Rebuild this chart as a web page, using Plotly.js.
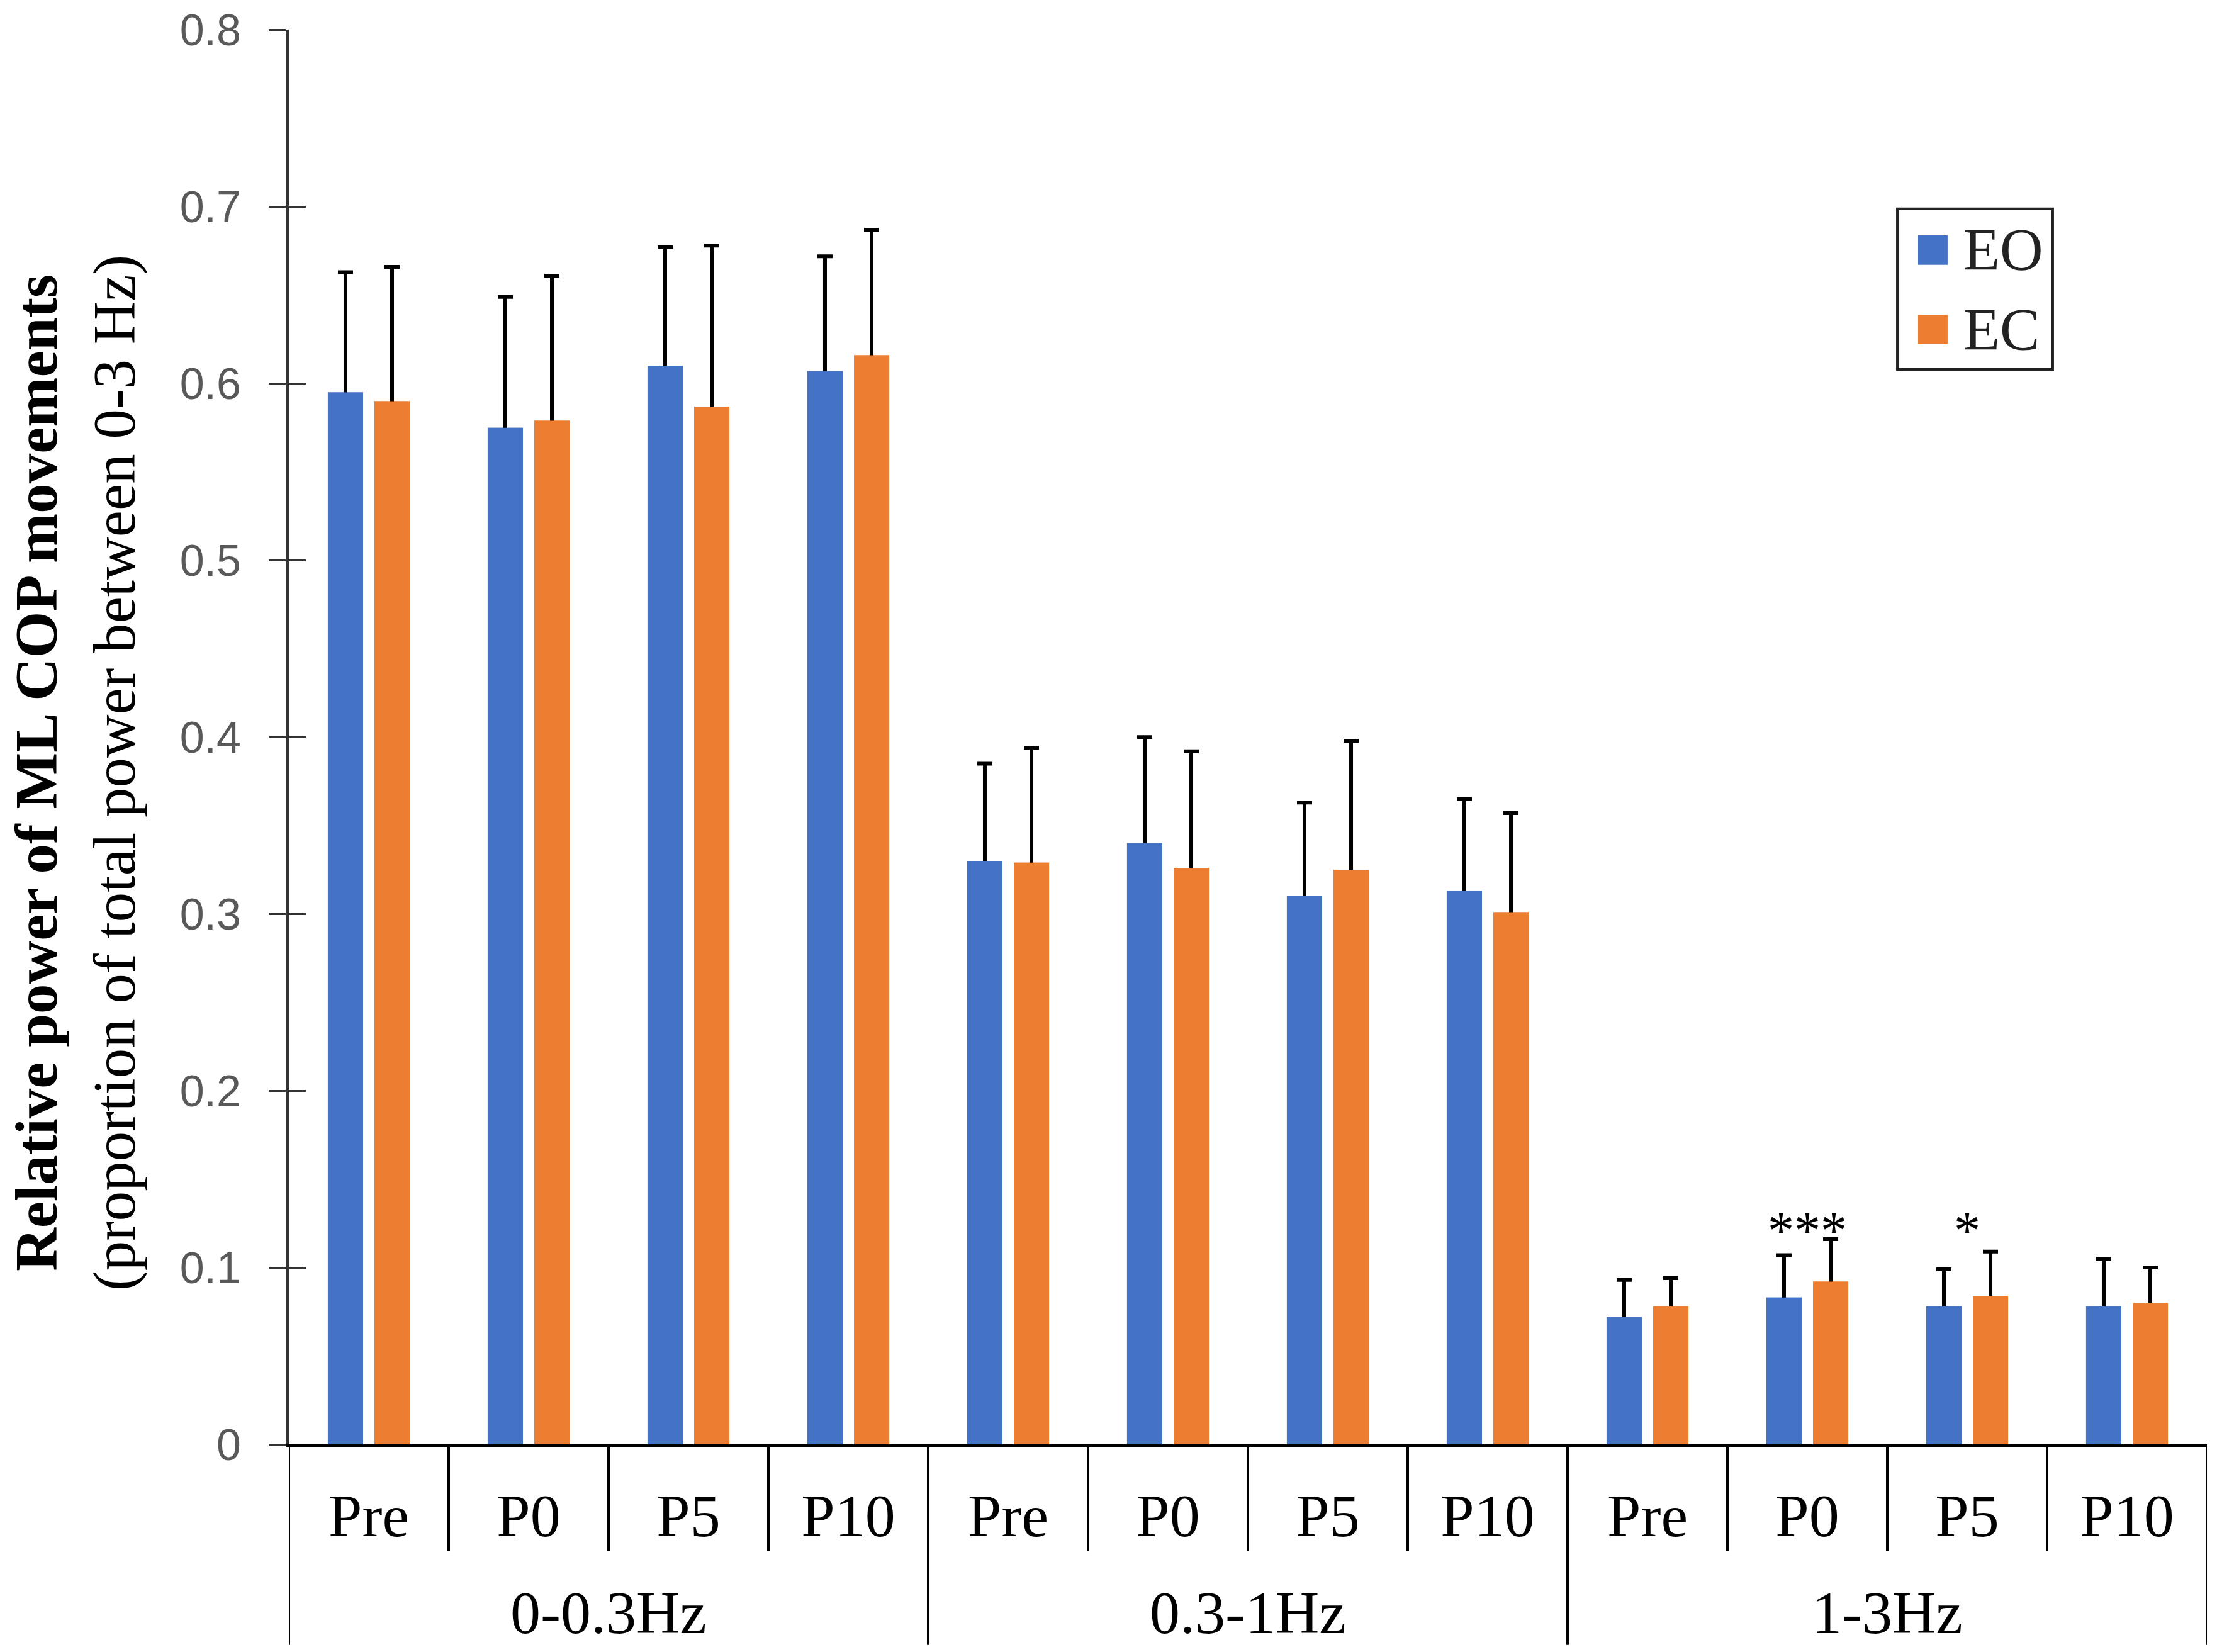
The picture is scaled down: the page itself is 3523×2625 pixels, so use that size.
<!DOCTYPE html>
<html>
<head>
<meta charset="utf-8">
<script src="https://cdn.plot.ly/plotly-3.0.1.min.js"></script>
<style>
  html, body { margin: 0; padding: 0; background: #fff; }
</style>
</head>
<body>
<div id="plot"></div>
<script>
const bands = ['0-0.3Hz', '0.3-1Hz', '1-3Hz'];
const periods = ['Pre', 'P0', 'P5', 'P10'];
const seriesNames = ['EO', 'EC'];

// mean relative power, one value per band/period (band-major order)
const eoMean = [0.595, 0.575, 0.610, 0.607, 0.330, 0.340, 0.310, 0.313, 0.072, 0.083, 0.078, 0.078];
const eoErr  = [0.068, 0.074, 0.067, 0.065, 0.055, 0.060, 0.053, 0.052, 0.021, 0.024, 0.021, 0.027];
const ecMean = [0.590, 0.579, 0.587, 0.616, 0.329, 0.326, 0.325, 0.301, 0.078, 0.092, 0.084, 0.080];
const ecErr  = [0.076, 0.082, 0.091, 0.071, 0.065, 0.066, 0.073, 0.056, 0.016, 0.024, 0.025, 0.020];
const stars  = ['', '', '', '', '', '', '', '', '', '***', '*', ''];

const colors = ['#4472C4', '#ED7D31'];
const means = [eoMean, ecMean];
const errs = [eoErr, ecErr];
const serif = 'Liberation Serif, Times New Roman, serif';

const xPos = eoMean.map((_, i) => i);
const tickText = [];
bands.forEach(() => periods.forEach(p => tickText.push(p)));

// first pass carries the error bars (on y), second pass sits on the overlay
// axis y2 and repaints the bars over the lower half of each error bar
const errTraces = seriesNames.map((name, k) => ({
    type: 'bar',
    name: name,
    x: xPos,
    y: means[k],
    offsetgroup: name,
    marker: { color: colors[k] },
    error_y: {
        type: 'data',
        array: errs[k],
        color: '#000',
        thickness: 6,
        width: 12,
    },
    showlegend: false,
    hoverinfo: 'skip',
}));

const barTraces = seriesNames.map((name, k) => ({
    type: 'bar',
    name: name,
    x: xPos,
    y: means[k],
    yaxis: 'y2',
    offsetgroup: name,
    marker: { color: colors[k] },
    showlegend: false,
}));

const shapes = [];
const annotations = [];

// divider lines under the axis, long ones between bands
for (let i = 0; i <= xPos.length; i++) {
    const isBand = i % periods.length === 0;
    shapes.push({
        type: 'line',
        xref: 'x', yref: 'paper',
        x0: i - 0.5, x1: i - 0.5,
        y0: 0, y1: isBand ? -0.1418 : -0.0752,
        line: { color: '#000', width: 4 },
    });
}

bands.forEach((b, bi) => {
    annotations.push({
        text: b,
        xref: 'x', yref: 'paper',
        x: bi * periods.length + (periods.length - 1) / 2,
        y: -0.1188,
        yanchor: 'middle',
        showarrow: false,
        font: { family: serif, size: 96, color: '#000' },
    });
});

stars.forEach((s, i) => {
    if (!s) return;
    annotations.push({
        text: s,
        xref: 'x', yref: 'y',
        x: xPos[i], y: 0.121,
        yanchor: 'middle',
        showarrow: false,
        font: { family: serif, size: 84, color: '#000' },
    });
});

annotations.push({
    text: '<b>Relative power of ML COP movements</b><br>(proportion of total power between 0-3 Hz)',
    xref: 'paper', yref: 'paper',
    x: -0.1112, y: 0.4747,
    xanchor: 'center', yanchor: 'middle',
    textangle: -90,
    showarrow: false,
    font: { family: serif, size: 95, color: '#000' },
});

// legend box drawn by hand so the swatches can be as large as the original
shapes.push({
    type: 'rect', xref: 'paper', yref: 'paper',
    x0: 0.8386, x1: 0.9196, y0: 0.7598, y1: 0.8733,
    line: { color: '#222', width: 4 },
    fillcolor: 'rgba(0,0,0,0)',
});
seriesNames.forEach((name, k) => {
    const yMid = 0.8441 - k * 0.0561;
    shapes.push({
        type: 'rect', xref: 'paper', yref: 'paper',
        x0: 0.8494, x1: 0.8648, y0: yMid - 0.0104, y1: yMid + 0.0104,
        line: { width: 0 },
        fillcolor: colors[k],
    });
    annotations.push({
        text: name,
        xref: 'paper', yref: 'paper',
        x: 0.8725, y: yMid,
        xanchor: 'left', yanchor: 'middle',
        showarrow: false,
        font: { family: serif, size: 95, color: '#222' },
    });
});

const yRange = [0, 0.8002];

const layout = {
    width: 3523,
    height: 2625,
    margin: { l: 459, r: 16, t: 47, b: 330 },
    paper_bgcolor: '#fff',
    plot_bgcolor: '#fff',
    barmode: 'group',
    bargap: 0.417,
    bargroupgap: 0.243,
    showlegend: false,
    xaxis: {
        range: [-0.5, 11.5],
        tickvals: xPos,
        ticktext: tickText,
        ticks: '',
        showline: true,
        linecolor: '#000',
        linewidth: 5,
        showgrid: false,
        zeroline: false,
        ticklabelstandoff: 26,
        tickfont: { family: serif, size: 96, color: '#000' },
    },
    yaxis: {
        range: yRange,
        tick0: 0,
        dtick: 0.1,
        ticks: 'outside',
        ticklen: 27,
        tickwidth: 3,
        tickcolor: '#333',
        showline: true,
        linecolor: '#333',
        linewidth: 5,
        showgrid: false,
        zeroline: false,
        ticklabelstandoff: 30,
        ticklabeloverflow: 'allow',
        tickfont: { family: 'Liberation Sans, Arial, sans-serif', size: 70, color: '#595959' },
    },
    // same scale as yaxis, only there to give the ticks their inner half
    yaxis2: {
        overlaying: 'y',
        anchor: 'x',
        side: 'left',
        range: yRange,
        tick0: 0,
        dtick: 0.1,
        ticks: 'inside',
        ticklen: 27,
        tickwidth: 3,
        tickcolor: '#333',
        showticklabels: false,
        showline: false,
        showgrid: false,
        zeroline: false,
    },
    shapes: shapes,
    annotations: annotations,
};

const config = {
    staticPlot: true,
    displayModeBar: false,
};

Plotly.newPlot('plot', errTraces.concat(barTraces), layout, config);
</script>
</body>
</html>
